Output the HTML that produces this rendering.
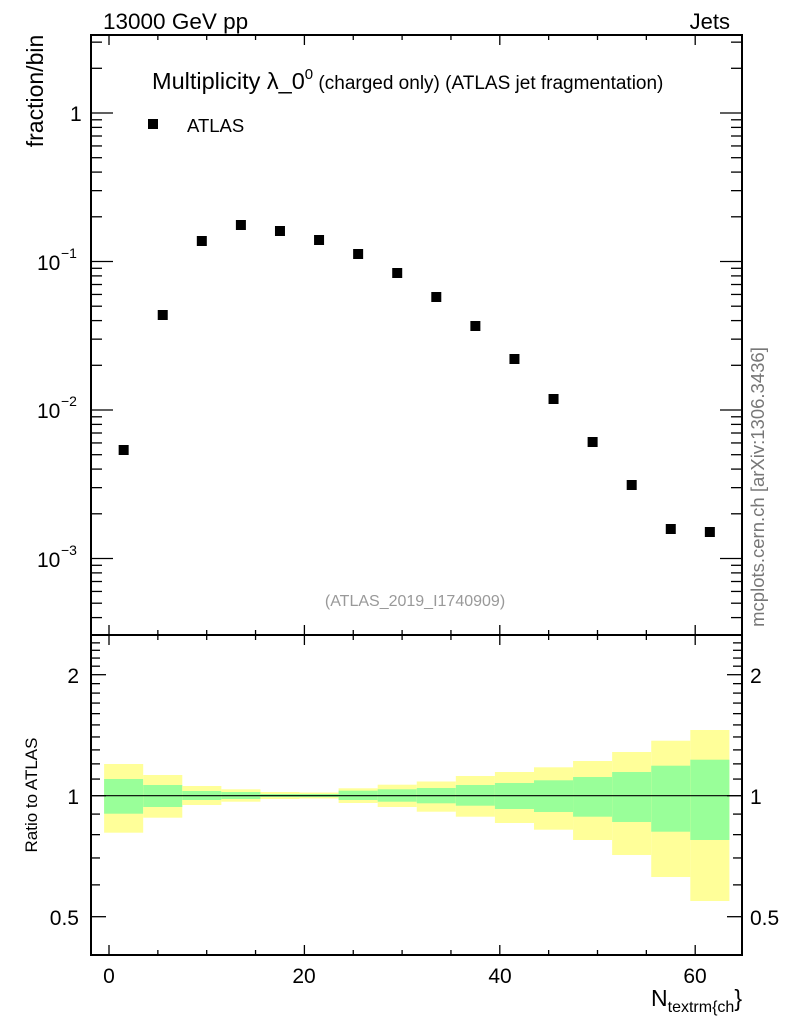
<!DOCTYPE html>
<html><head><meta charset="utf-8"><style>
body{margin:0;background:#fff;width:786px;height:1024px;overflow:hidden}
svg{display:block;font-family:"Liberation Sans",sans-serif}
</style></head><body>
<svg id="s" width="786" height="1024" viewBox="0 0 786 1024">
<g id="bands"></g>
<line x1="91" x2="742" y1="795.7" y2="795.7" stroke="#000" stroke-width="1.2"/>
<g id="ticks" stroke="#000" stroke-width="1.3"></g>
<g id="pts"></g>
<rect x="91" y="35" width="651" height="600" fill="none" stroke="#000" stroke-width="2"/>
<rect x="91" y="635" width="651" height="320" fill="none" stroke="#000" stroke-width="2"/>
<text x="103" y="29" font-size="22.5">13000 GeV pp</text>
<text x="730" y="29" font-size="22" text-anchor="end">Jets</text>
<text x="152" y="89" font-size="23.5">Multiplicity λ_0<tspan font-size="15" dy="-10">0</tspan><tspan font-size="19" dy="10"> (charged only) (ATLAS jet fragmentation)</tspan></text>
<rect x="148" y="119" width="10" height="10" fill="#000"/>
<text x="187" y="132" font-size="18.5">ATLAS</text>
<text transform="translate(43,91) rotate(-90)" font-size="23" text-anchor="middle">fraction/bin</text>
<text transform="translate(37,795) rotate(-90)" font-size="17" text-anchor="middle">Ratio to ATLAS</text>
<text transform="translate(764,487) rotate(-90)" font-size="18.5" fill="#777" text-anchor="middle">mcplots.cern.ch [arXiv:1306.3436]</text>
<text x="415" y="606" font-size="16" fill="#999" text-anchor="middle">(ATLAS_2019_I1740909)</text>
<g font-size="21">
<text x="70" y="121">1</text>
<text x="37" y="270">10</text><text x="61" y="258" font-size="14">−1</text>
<text x="37" y="418">10</text><text x="61" y="406" font-size="14">−2</text>
<text x="37" y="567">10</text><text x="61" y="555" font-size="14">−3</text>
</g>
<g font-size="21" text-anchor="end">
<text x="79" y="683">2</text>
<text x="79" y="804">1</text>
<text x="79" y="925">0.5</text>
</g>
<g font-size="21">
<text x="750" y="683">2</text>
<text x="750" y="804">1</text>
<text x="750" y="925">0.5</text>
</g>
<g font-size="21" text-anchor="middle">
<text x="109" y="983">0</text>
<text x="304" y="983">20</text>
<text x="500" y="983">40</text>
<text x="695" y="983">60</text>
</g>
<text x="742" y="1006" font-size="23" text-anchor="end">N<tspan font-size="16" dy="6">textrm{ch</tspan><tspan font-size="23" dy="-6">}</tspan></text>
</svg>
<script>
var NS="http://www.w3.org/2000/svg";
function el(p,t,a){var e=document.createElementNS(NS,t);for(var k in a)e.setAttribute(k,a[k]);document.getElementById(p).appendChild(e);}
var X=function(v){return 109+v*9.77;};
var Y=[[764,832.7,779,813.7],[775,817.7,785,807],[786,805,791,800],[789.3,801.7,792,799],[792,799,794,797],[792.5,798.5,794,797],[788.3,803,790.7,800],[784.7,807,789.3,801.7],[781.5,811.7,788,803.3],[776,816.7,785,805.7],[772,823,783,809],[767.3,829.7,780.3,812],[761,840,777,816.7],[752,855,772,822],[740.7,877,765.7,831.7],[730,901,759.7,840]];
for(var i=0;i<16;i++){var x0=X(-0.5+4*i),x1=X(3.5+4*i);var b=Y[i];
el("bands","rect",{x:x0,y:b[0],width:x1-x0,height:b[1]-b[0],fill:"#ffff99"});
el("bands","rect",{x:x0,y:b[2],width:x1-x0,height:b[3]-b[2],fill:"#99ff99"});}
var P=[450,315,241,225,231,240,254,273,297,326,359,399,442,485,529,532];
for(var i=0;i<16;i++)el("pts","rect",{x:X(1.5+4*i)-5,y:P[i]-5,width:10,height:10,fill:"#000"});
function ln(a,b,c,d){el("ticks","line",{x1:a,y1:b,x2:c,y2:d});}
for(var v=0;v<=60;v+=5){var x=X(v),L=(v%20==0)?10:5;
ln(x,35,x,35+L);ln(x,635,x,635-L);ln(x,635,x,635+L);ln(x,955,x,955-L);}
for(var d=-4;d<=1;d++)for(var k=1;k<10;k++){var y=113-(d+Math.log10(k))*148.5;if(y<36||y>634)continue;var L=k==1?22:11;ln(91,y,91+L,y);ln(742,y,742-L,y);}
var R=[0.5,0.6,0.7,0.8,0.9,1,1.1,1.2,1.3,1.4,1.5,1.6,1.7,1.8,1.9,2,2.1,2.2,2.3,2.4,2.5];
R.forEach(function(r){var y=795.7-Math.log2(r)*121;if(y<636)return;var L=(r==0.5||r==1||r==2)?15:9;ln(91,y,91+L,y);ln(742,y,742-L,y);});
</script>
</body></html>
